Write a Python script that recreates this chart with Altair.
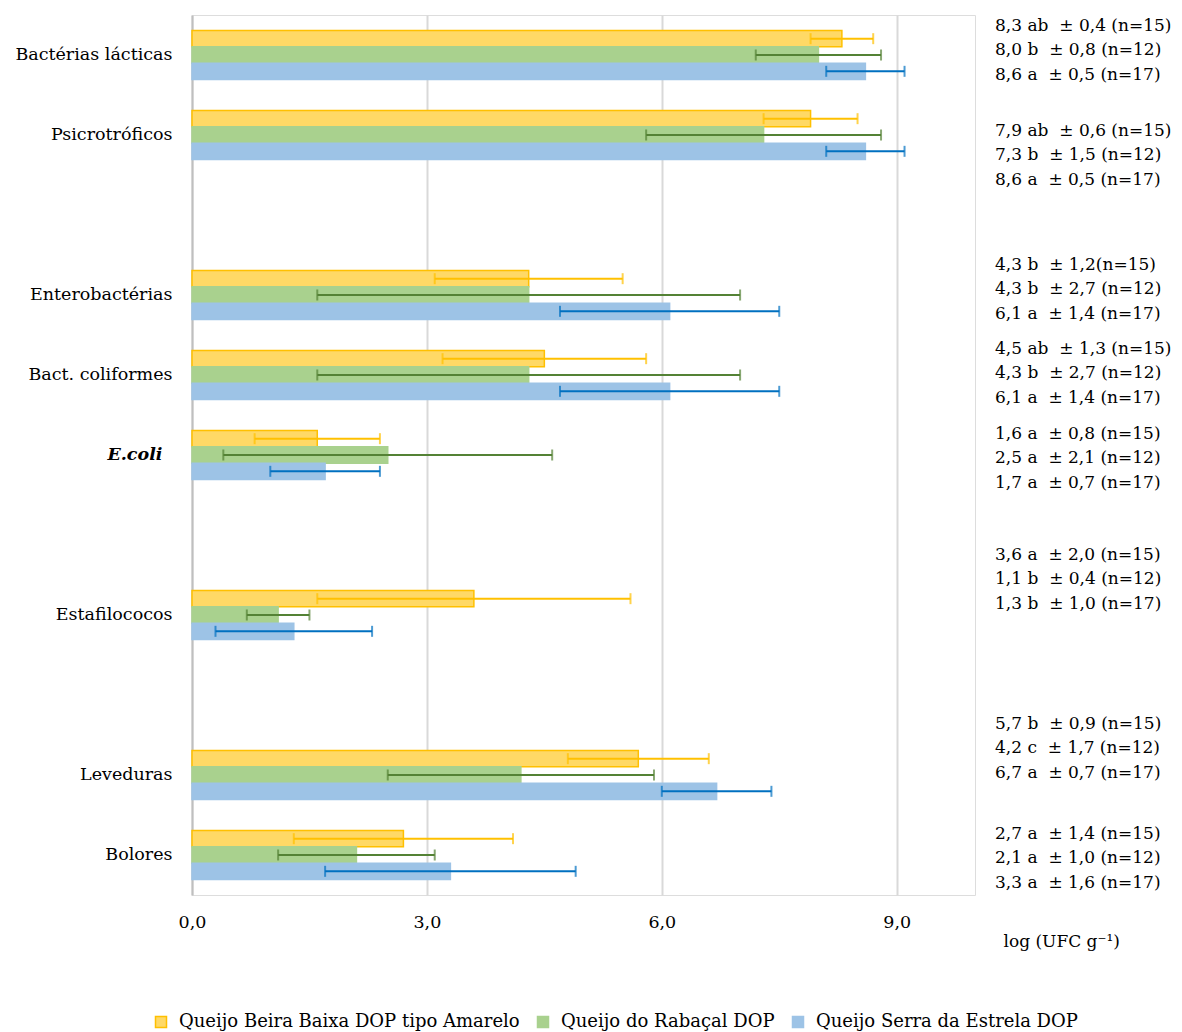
import altair as alt
import pandas as pd

FONT = "DejaVu Serif"

# ---- data ----
categories = ["Bactérias lácticas", "Psicrotróficos", "Enterobactérias", "Bact. coliformes",
              "E.coli", "Estafilococos", "Leveduras", "Bolores"]
y_domain = ["Bactérias lácticas", "Psicrotróficos", " ", "Enterobactérias", "Bact. coliformes",
            "E.coli", "  ", "Estafilococos", "   ", "Leveduras", "Bolores"]
series = ["Queijo Beira Baixa DOP tipo Amarelo", "Queijo do Rabaçal DOP", "Queijo Serra da Estrela DOP"]

mean_bb = [8.3, 7.9, 4.3, 4.5, 1.6, 3.6, 5.7, 2.7]
sd_bb = [0.4, 0.6, 1.2, 1.3, 0.8, 2.0, 0.9, 1.4]
mean_rb = [8.0, 7.3, 4.3, 4.3, 2.5, 1.1, 4.2, 2.1]
sd_rb = [0.8, 1.5, 2.7, 2.7, 2.1, 0.4, 1.7, 1.0]
mean_se = [8.6, 8.6, 6.1, 6.1, 1.7, 1.3, 6.7, 3.3]
sd_se = [0.5, 0.5, 1.4, 1.4, 0.7, 1.0, 0.7, 1.6]

NB = "\u00a0"
annot_lines = [
    [f"8,3 ab{NB} ± 0,4 (n=15)", f"8,0 b{NB} ± 0,8 (n=12)", f"8,6 a{NB} ± 0,5 (n=17)"],
    [f"7,9 ab{NB} ± 0,6 (n=15)", f"7,3 b{NB} ± 1,5 (n=12)", f"8,6 a{NB} ± 0,5 (n=17)"],
    [f"4,3 b{NB} ± 1,2(n=15)", f"4,3 b{NB} ± 2,7 (n=12)", f"6,1 a{NB} ± 1,4 (n=17)"],
    [f"4,5 ab{NB} ± 1,3 (n=15)", f"4,3 b{NB} ± 2,7 (n=12)", f"6,1 a{NB} ± 1,4 (n=17)"],
    [f"1,6 a{NB} ± 0,8 (n=15)", f"2,5 a{NB} ± 2,1 (n=12)", f"1,7 a{NB} ± 0,7 (n=17)"],
    [f"3,6 a{NB} ± 2,0 (n=15)", f"1,1 b{NB} ± 0,4 (n=12)", f"1,3 b{NB} ± 1,0 (n=17)"],
    [f"5,7 b{NB} ± 0,9 (n=15)", f"4,2 c{NB} ± 1,7 (n=12)", f"6,7 a{NB} ± 0,7 (n=17)"],
    [f"2,7 a{NB} ± 1,4 (n=15)", f"2,1 a{NB} ± 1,0 (n=12)", f"3,3 a{NB} ± 1,6 (n=17)"],
]
# vertical shift (px) of the middle line of each annotation block relative to its category centre
annot_shift = [-5, 20, -6, -2, 3, -36, -27, 3]
LINE_H = 24.5

bar_fill = ["#FFD966", "#A9D18E", "#9DC3E6"]
bar_stroke = ["#FFC000", "#A9D18E", "#9DC3E6"]
err_color = ["#FFC000", "#548235", "#0070C0"]

rows = []
for s, means, sds in zip(series, [mean_bb, mean_rb, mean_se], [sd_bb, sd_rb, sd_se]):
    for c, m, sd in zip(categories, means, sds):
        rows.append({"cat": c, "series": s, "mean": m, "sd": sd})
df = pd.DataFrame(rows)

ann = pd.DataFrame({"cat": categories, "lines": annot_lines, "shift": annot_shift})

W, H = 783, 880

y_enc = alt.Y("cat:N", scale=alt.Scale(domain=y_domain, paddingInner=0, paddingOuter=0),
              axis=alt.Axis(title=None, ticks=False, domain=True, domainColor="#BFBFBF", domainWidth=2,
                            labelFont=FONT, labelFontSize=17.5, labelColor="#000000",
                            labelPadding={"condition": {"test": "datum.value == 'E.coli'", "value": 30}, "value": 20},
                            labelFontStyle={"condition": {"test": "datum.value == 'E.coli'", "value": "italic"}, "value": "normal"},
                            labelFontWeight={"condition": {"test": "datum.value == 'E.coli'", "value": "bold"}, "value": "normal"}))
yoff = alt.YOffset("series:N", sort=series, scale=alt.Scale(domain=series, paddingInner=0, paddingOuter=0.95))
x_enc = alt.X("mean:Q", scale=alt.Scale(domain=[0, 10], nice=False),
              axis=alt.Axis(values=[0, 3, 6, 9], labelExpr="replace(format(datum.value, '.1f'), '.', ',')",
                            grid=True, gridColor="#D9D9D9", gridWidth=2, ticks=False, domain=False,
                            labelFlush=False,
                            labelFont=FONT, labelFontSize=17.5, labelColor="#000000", labelPadding=18,
                            title="log (UFC g⁻¹)", titleFont=FONT, titleFontSize=17, titleFontWeight="normal",
                            titleColor="#000000", titleX=811, titleY=46, titleAlign="left", titleBaseline="middle"))

base = alt.Chart(df)

bars = base.mark_bar(strokeWidth=1.5, cornerRadius=0).encode(
    y=y_enc,
    yOffset=yoff,
    x=x_enc,
    fill=alt.Fill("series:N", sort=series, scale=alt.Scale(domain=series, range=bar_fill),
                  legend=alt.Legend(title=None, orient="none", direction="horizontal", legendX=-40, legendY=998,
                                    symbolType="square", symbolSize=121, symbolStrokeWidth=1.5,
                                    labelFont=FONT, labelFontSize=18, labelColor="#000000",
                                    labelOffset=9, columnPadding=14, labelLimit=500)),
    stroke=alt.Stroke("series:N", sort=series, scale=alt.Scale(domain=series, range=bar_stroke), legend=None),
)

err = base.transform_calculate(lo="datum.mean - datum.sd", hi="datum.mean + datum.sd")

err_col = alt.Color("series:N", sort=series, scale=alt.Scale(domain=series, range=err_color), legend=None)
rules = err.mark_rule(strokeWidth=2).encode(
    y=alt.Y("cat:N"), yOffset=yoff, x=alt.X("lo:Q"), x2="hi:Q", color=err_col,
)
caps_lo = err.mark_tick(orient="vertical", size=11, thickness=2).encode(
    y=alt.Y("cat:N"), yOffset=yoff, x=alt.X("lo:Q"), color=err_col,
)
caps_hi = err.mark_tick(orient="vertical", size=11, thickness=2).encode(
    y=alt.Y("cat:N"), yOffset=yoff, x=alt.X("hi:Q"), color=err_col,
)

text_layers = []
for c, sh in zip(categories, annot_shift):
    t = alt.Chart(ann).transform_filter(alt.datum.cat == c).mark_text(
        align="left", baseline="middle", font=FONT, fontSize=17, color="#000000",
        lineHeight=LINE_H, dy=sh - LINE_H,
    ).encode(y=alt.Y("cat:N"), x=alt.value(803), text="lines:N")
    text_layers.append(t)

chart = alt.layer(bars, rules, caps_lo, caps_hi, *text_layers).properties(
    width=W, height=H,
    autosize=alt.AutoSizeParams(type="none"),
    padding={"left": 184, "top": 7, "right": 199, "bottom": 137},
).configure_view(stroke="#A6A6A6", strokeWidth=2).configure(background="white")

chart.save("out.html", embed_options={"renderer": "svg", "actions": False})
